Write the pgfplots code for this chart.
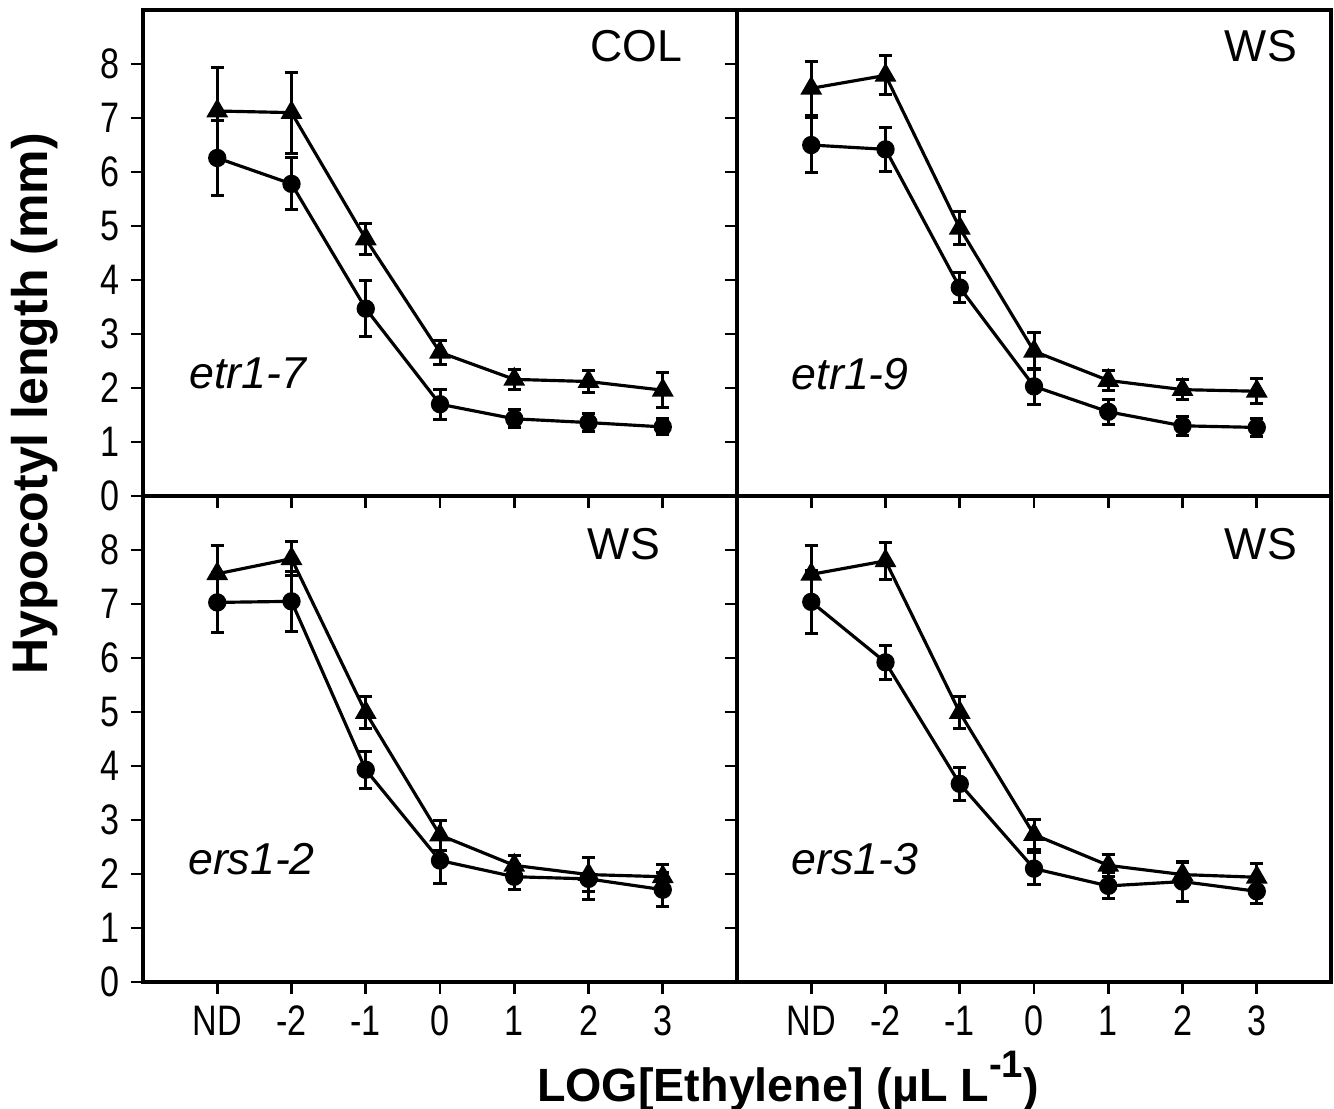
\documentclass[border=0pt]{standalone}
\usepackage{fontspec}
\setmainfont{Liberation Sans}
\newfontfamily\narrowfont[FakeStretch=0.8]{Liberation Sans}
\usepackage{pgfplots}
\pgfplotsset{compat=1.18}
\pgfplotsset{
  panel/.style={
    scale only axis, width=178.2pt, height=145.8pt,
    xmin=-1, xmax=7, ymin=0, ymax=9,
    xtick={0,...,6}, ytick={0,...,8},
    xticklabels={ND,-2,-1,0,1,2,3},
    tick align=outside, xtick pos=left, ytick pos=left,
    major tick length=3.6pt,
    axis line style={line width=0.95pt},
    every tick/.style={black, line width=0.85pt},
    ticklabel style={font=\narrowfont\fontsize{12.8}{14}\selectfont},
    /pgf/number format/assume math mode=true,
    clip=false,
  },
  tri/.style={black, line width=0.95pt, mark=triangle*, mark size=3.3pt,
    mark options={solid, fill=black, line width=0.5pt},
    error bars/.cd, y dir=both, y explicit,
    error bar style={line width=0.9pt},
    error mark options={rotate=90, mark size=2pt, line width=0.9pt}},
  circ/.style={black, line width=0.95pt, mark=*, mark size=2.5pt,
    mark options={solid, fill=black, line width=0.5pt},
    error bars/.cd, y dir=both, y explicit,
    error bar style={line width=0.9pt},
    error mark options={rotate=90, mark size=2pt, line width=0.9pt}},
}
\newcommand{\plab}{\fontsize{13.4}{15}\selectfont}
\begin{document}
\begin{tikzpicture}
\path[use as bounding box] (-42.9pt,-37.8pt) rectangle (357.3pt,294.6pt);
% top left
\begin{axis}[panel, at={(0pt,145.8pt)}, xticklabels={}]
\addplot+[circ] coordinates {(0,6.26)+-(0,0.7) (1,5.78)+-(0,0.48) (2,3.47)+-(0,0.52) (3,1.7)+-(0,0.28) (4,1.43)+-(0,0.17) (5,1.36)+-(0,0.16) (6,1.28)+-(0,0.15)};
\addplot+[tri] coordinates {(0,7.13)+-(0,0.8) (1,7.1)+-(0,0.75) (2,4.76)+-(0,0.29) (3,2.66)+-(0,0.22) (4,2.16)+-(0,0.19) (5,2.12)+-(0,0.21) (6,1.96)+-(0,0.32)};
\node[anchor=base east, inner sep=0pt, font=\plab] at (axis cs:6.27,8.04) {COL};
\node[anchor=base west, inner sep=0pt, font=\plab\itshape] at (axis cs:-0.38,1.99) {etr1-7};
\end{axis}
% top right
\begin{axis}[panel, at={(178.2pt,145.8pt)}, xticklabels={}, yticklabels={}]
\addplot+[circ] coordinates {(0,6.5)+-(0,0.51) (1,6.42)+-(0,0.41) (2,3.86)+-(0,0.28) (3,2.03)+-(0,0.34) (4,1.56)+-(0,0.23) (5,1.3)+-(0,0.18) (6,1.27)+-(0,0.17)};
\addplot+[tri] coordinates {(0,7.55)+-(0,0.5) (1,7.79)+-(0,0.36) (2,4.96)+-(0,0.3) (3,2.68)+-(0,0.34) (4,2.14)+-(0,0.19) (5,1.97)+-(0,0.19) (6,1.94)+-(0,0.23)};
\node[anchor=base east, inner sep=0pt, font=\plab] at (axis cs:6.55,8.04) {WS};
\node[anchor=base west, inner sep=0pt, font=\plab\itshape] at (axis cs:-0.27,1.97) {etr1-9};
\end{axis}
% bottom left
\begin{axis}[panel, at={(0pt,0pt)}]
\addplot+[circ] coordinates {(0,7.03)+-(0,0.55) (1,7.05)+-(0,0.55) (2,3.93)+-(0,0.34) (3,2.25)+-(0,0.43) (4,1.95)+-(0,0.23) (5,1.91)+-(0,0.39) (6,1.71)+-(0,0.31)};
\addplot+[tri] coordinates {(0,7.56)+-(0,0.53) (1,7.84)+-(0,0.32) (2,4.99)+-(0,0.3) (3,2.72)+-(0,0.28) (4,2.16)+-(0,0.18) (5,1.99)+-(0,0.32) (6,1.95)+-(0,0.23)};
\node[anchor=base east, inner sep=0pt, font=\plab] at (axis cs:5.97,7.83) {WS};
\node[anchor=base west, inner sep=0pt, font=\plab\itshape] at (axis cs:-0.4,1.99) {ers1-2};
\end{axis}
% bottom right
\begin{axis}[panel, at={(178.2pt,0pt)}, yticklabels={}]
\addplot+[circ] coordinates {(0,7.04)+-(0,0.58) (1,5.92)+-(0,0.32) (2,3.67)+-(0,0.31) (3,2.1)+-(0,0.3) (4,1.78)+-(0,0.24) (5,1.86)+-(0,0.37) (6,1.68)+-(0,0.23)};
\addplot+[tri] coordinates {(0,7.55)+-(0,0.53) (1,7.8)+-(0,0.34) (2,4.99)+-(0,0.3) (3,2.73)+-(0,0.28) (4,2.16)+-(0,0.2) (5,1.99)+-(0,0.23) (6,1.94)+-(0,0.25)};
\node[anchor=base east, inner sep=0pt, font=\plab] at (axis cs:6.55,7.83) {WS};
\node[anchor=base west, inner sep=0pt, font=\plab\itshape] at (axis cs:-0.27,1.99) {ers1-3};
\end{axis}
\node[rotate=90, font=\bfseries\fontsize{15}{17}\selectfont] at (-32.4pt,173.4pt) {Hypocotyl length (mm)};
\node[anchor=base, inner sep=0pt, font=\bfseries\fontsize{14}{16}\selectfont] at (193.5pt,-35.7pt) {LOG[Ethylene] (µL L\raisebox{0.5em}{\fontsize{11.5}{12}\selectfont -1})};
\end{tikzpicture}
\end{document}
